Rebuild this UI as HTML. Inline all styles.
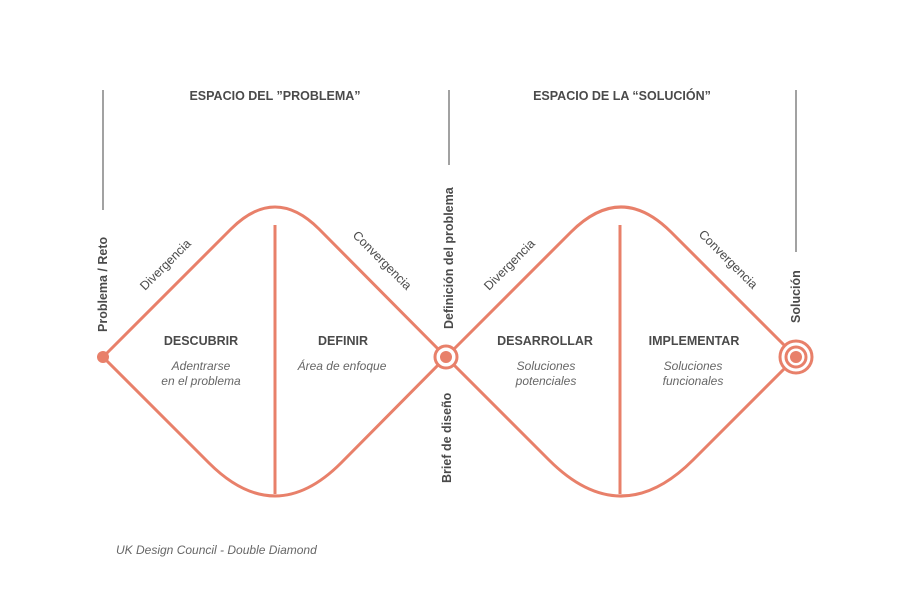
<!DOCTYPE html>
<html><head><meta charset="utf-8"><style>
html,body{margin:0;padding:0;background:#fff}
svg{display:block}
text{font-family:"Liberation Sans",sans-serif}
.h{font-size:12.5px;font-weight:bold;fill:#4a4a4a}
.v{font-size:12.5px;font-weight:bold;fill:#4a4a4a}
.d{font-size:12.5px;fill:#4a4a4a}
.i{font-size:12px;font-style:italic;fill:#666}
</style></head><body>
<svg width="900" height="602" viewBox="0 0 900 602" xmlns="http://www.w3.org/2000/svg">
<g stroke="#444" stroke-width="1">
<line x1="103" y1="90" x2="103" y2="210"/>
<line x1="449" y1="90" x2="449" y2="165"/>
<line x1="796" y1="90" x2="796" y2="252"/>
</g>
<text class="h" x="275" y="100" text-anchor="middle">ESPACIO DEL ”PROBLEMA”</text>
<text class="h" x="622" y="100" text-anchor="middle">ESPACIO DE LA “SOLUCIÓN”</text>
<g fill="none" stroke="#e8806a" stroke-width="3">
<path d="M103,357 L231,229 Q275,185 319,229 L446,357 L341,463 Q275,529 209,463 Z"/>
<path d="M446,357 L571,232 Q621,182 671,232 L796,357 L693,460 Q621,532 549,460 Z"/>
<line x1="275" y1="225" x2="275" y2="494"/>
<line x1="620" y1="225" x2="620" y2="494"/>
</g>
<circle cx="103" cy="357" r="6" fill="#e8806a"/>
<circle cx="446" cy="357" r="11" fill="#fff" stroke="#e8806a" stroke-width="3"/>
<circle cx="446" cy="357" r="6" fill="#e8806a"/>
<circle cx="796" cy="357" r="16" fill="#fff" stroke="#e8806a" stroke-width="3"/>
<circle cx="796" cy="357" r="10" fill="#fff" stroke="#e8806a" stroke-width="3"/>
<circle cx="796" cy="357" r="6" fill="#e8806a"/>
<text class="v" transform="translate(107,332) rotate(-90)">Problema / Reto</text>
<text class="v" transform="translate(453,329) rotate(-90)">Definición del problema</text>
<text class="v" transform="translate(451,483) rotate(-90)">Brief de diseño</text>
<text class="v" transform="translate(800,323) rotate(-90)">Solución</text>
<text class="d" transform="translate(145,291) rotate(-45)">Divergencia</text>
<text class="d" transform="translate(489,291) rotate(-45)">Divergencia</text>
<text class="d" transform="translate(352,236) rotate(45)">Convergencia</text>
<text class="d" transform="translate(698,235) rotate(45)">Convergencia</text>
<text class="h" x="201" y="345" text-anchor="middle">DESCUBRIR</text>
<text class="h" x="343" y="345" text-anchor="middle">DEFINIR</text>
<text class="h" x="545" y="345" text-anchor="middle">DESARROLLAR</text>
<text class="h" x="694" y="345" text-anchor="middle">IMPLEMENTAR</text>
<text class="i" x="201" y="370" text-anchor="middle">Adentrarse</text>
<text class="i" x="201" y="385" text-anchor="middle">en el problema</text>
<text class="i" x="342" y="370" text-anchor="middle">Área de enfoque</text>
<text class="i" x="546" y="370" text-anchor="middle">Soluciones</text>
<text class="i" x="546" y="385" text-anchor="middle">potenciales</text>
<text class="i" x="693" y="370" text-anchor="middle">Soluciones</text>
<text class="i" x="693" y="385" text-anchor="middle">funcionales</text>
<text class="i" x="116" y="554">UK Design Council - Double Diamond</text>
</svg>
</body></html>
